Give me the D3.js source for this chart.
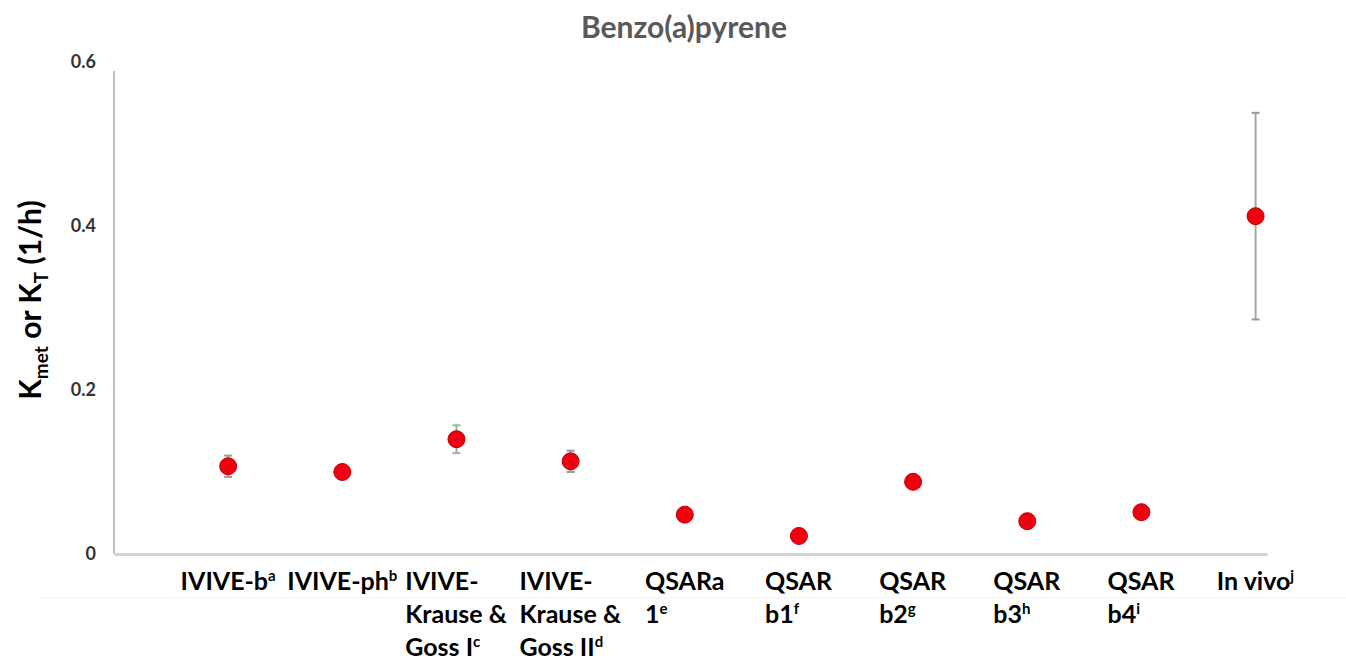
<!DOCTYPE html>
<html>
<head>
<meta charset="utf-8">
<script src="https://cdn.jsdelivr.net/npm/d3@7/dist/d3.min.js"></script>
<style>
  html, body { margin: 0; padding: 0; background: #ffffff; }
  svg { display: block; font-family: Lato, "Open Sans", sans-serif; font-weight: bold; }
</style>
</head>
<body>
<svg id="chart" width="1346" height="664"></svg>
<script>
// ---- data ----
const categories = ["IVIVE-b", "IVIVE-ph", "IVIVE-Krause & Goss I", "IVIVE-Krause & Goss II",
  "QSARa 1", "QSAR b1", "QSAR b2", "QSAR b3", "QSAR b4", "In vivo"];
const labelLines = [["IVIVE-b"], ["IVIVE-ph"], ["IVIVE-", "Krause &", "Goss I"], ["IVIVE-", "Krause &", "Goss II"],
  ["QSARa", "1"], ["QSAR", "b1"], ["QSAR", "b2"], ["QSAR", "b3"], ["QSAR", "b4"], ["In vivo"]];
const footnotes = ["a", "b", "c", "d", "e", "f", "g", "h", "i", "j"];
const values = [0.107, 0.100, 0.140, 0.113, 0.048, 0.022, 0.088, 0.040, 0.051, 0.412];
const errors = [0.013, 0.004, 0.017, 0.013, 0, 0, 0, 0, 0, 0.126];
const yTicks = [0, 0.2, 0.4, 0.6];
const title = "Benzo(a)pyrene";

// ---- layout ----
const svg = d3.select("#chart");
const x = d3.scaleLinear().domain([0, 10.1]).range([114, 1267]);
const y = d3.scaleLinear().domain([0, 0.6]).range([554, 62]);

// faint frame line
svg.append("line").attr("x1", 40).attr("x2", 1346).attr("y1", 598).attr("y2", 598)
  .attr("stroke", "#f2f2f2").attr("stroke-width", 1);

// title
svg.append("text").attr("x", 684).attr("y", 38).attr("text-anchor", "middle")
  .attr("font-size", 30).attr("fill", "#595959").text(title);

// y axis
const yAxis = svg.append("g").attr("transform", `translate(${x(0)},0)`)
  .call(d3.axisLeft(y).tickValues(yTicks).tickSize(0).tickPadding(18)
    .tickFormat(d => d === 0 ? "0" : d.toFixed(1)));
yAxis.select(".domain").attr("stroke", "#bfbfbf").attr("stroke-width", 2)
  .attr("d", `M0,${y(0)}V${y(0.6) + 9}`);
yAxis.selectAll(".tick text").attr("font-size", 18).attr("fill", "#333333")
  .attr("font-family", "Lato, sans-serif").attr("font-weight", "bold");

// x axis line
const xAxis = svg.append("g").attr("transform", `translate(0,${y(0)})`)
  .call(d3.axisBottom(x).tickValues([]).tickSize(0).tickSizeOuter(0));
xAxis.select(".domain").attr("stroke", "#d3d3d3").attr("stroke-width", 3);

// y axis title
const yt = svg.append("text").attr("transform", `translate(41,${300}) rotate(-90)`)
  .attr("text-anchor", "middle").attr("font-size", 30).attr("fill", "#000");
yt.append("tspan").text("K");
yt.append("tspan").attr("font-size", 19).attr("dy", 7).text("met");
yt.append("tspan").attr("dy", -7).text(" or K");
yt.append("tspan").attr("font-size", 19).attr("dy", 7).text("T");
yt.append("tspan").attr("dy", -7).text(" (1/h)");

// category labels
const lineH = 33;
categories.forEach((c, i) => {
  const g = svg.append("g");
  const t = g.append("text").attr("font-size", 25).attr("fill", "#000");
  labelLines[i].forEach((ln, j) => {
    t.append("tspan").attr("x", 0).attr("y", 590 + j * lineH).text(ln);
    if (j === labelLines[i].length - 1) {
      t.append("tspan").attr("font-size", 15).attr("dy", -9).text(footnotes[i]);
    }
  });
  const bb = t.node().getBBox();
  g.attr("transform", `translate(${x(i + 1) - bb.width / 2},0)`);
});

// error bars
const errColor = (i) => i === 2 ? "#8fbf9a" : "#999999";
values.forEach((v, i) => {
  if (errors[i] <= 0) return;
  const cx = x(i + 1);
  const g = svg.append("g").attr("stroke", errColor(i)).attr("stroke-width", 2);
  g.append("line").attr("x1", cx).attr("x2", cx).attr("y1", y(v - errors[i])).attr("y2", y(v + errors[i]))
    .attr("stroke", "#a6a6a6");
  [v - errors[i], v + errors[i]].forEach(e => {
    g.append("line").attr("x1", cx - 4).attr("x2", cx + 4).attr("y1", y(e)).attr("y2", y(e));
  });
});

// points
svg.append("g").selectAll("circle").data(values).join("circle")
  .attr("cx", (d, i) => x(i + 1)).attr("cy", d => y(d)).attr("r", 8.5)
  .attr("fill", "#ee0010").attr("stroke", "#c00000").attr("stroke-width", 1);
</script>
</body>
</html>
